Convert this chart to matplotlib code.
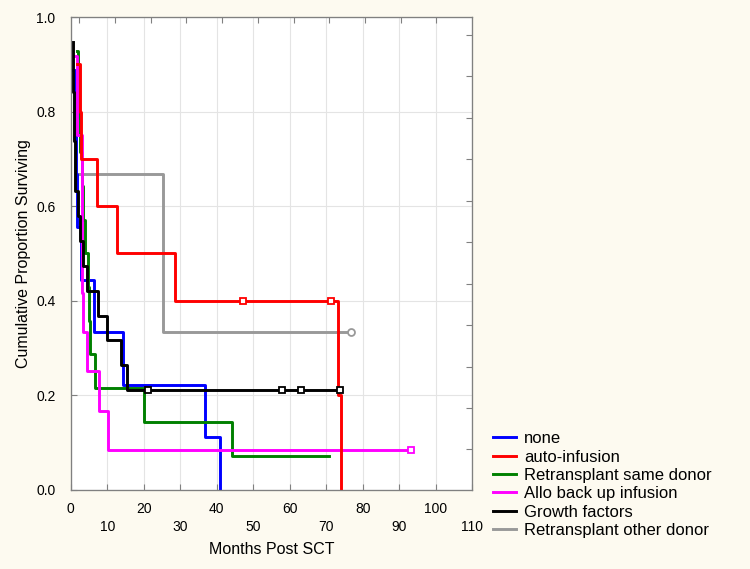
import matplotlib.pyplot as plt
import numpy as np

plt.rcParams['font.family'] = ['Liberation Sans', 'DejaVu Sans']

# Kaplan-Meier steps (months, proportion surviving)
none_t = [0.5, 1.2, 1.4, 1.6, 2.9, 6.5, 14.2, 36.8, 40.9]
none_s = [0.889, 0.778, 0.667, 0.556, 0.444, 0.333, 0.222, 0.111, 0.0]
none_end = 40.9

auto_t = [1.6, 2.5, 2.8, 7.1, 12.8, 28.6, 73.2, 74.0]
auto_s = [0.9, 0.8, 0.7, 0.6, 0.5, 0.4, 0.2, 0.0]
auto_end = 74.0
auto_cens_t = [47.1, 71.2]
auto_cens_s = [0.4, 0.4]

same_t = [1.6, 2.0, 2.3, 2.6, 3.0, 3.4, 3.9, 4.8, 5.0, 5.3, 6.6, 20.1, 44.1]
same_s = [0.929, 0.857, 0.786, 0.714, 0.643, 0.571, 0.5, 0.429, 0.357, 0.286, 0.214, 0.143, 0.071]
same_end = 70.9

allo_t = [1.4, 1.7, 1.8, 3.0, 3.1, 3.5, 4.4, 7.8, 10.2]
allo_s = [0.917, 0.833, 0.75, 0.5, 0.417, 0.333, 0.25, 0.167, 0.083]
allo_end = 93.2
allo_cens_t = [93.2]
allo_cens_s = [0.083]

growth_t = [0.5, 0.6, 0.7, 0.8, 0.9, 1.1, 1.2, 2.1, 2.5, 3.4, 4.5, 7.4, 10.0, 13.8, 15.3]
growth_s = [0.947, 0.895, 0.842, 0.789, 0.737, 0.684, 0.632, 0.579, 0.526, 0.474, 0.421,
            0.368, 0.316, 0.263, 0.211]
growth_end = 73.9
growth_cens_t = [21.1, 58.0, 63.1, 73.9]
growth_cens_s = [0.211, 0.211, 0.211, 0.211]

other_t = [2.1, 25.2]
other_s = [0.667, 0.333]
other_end = 76.7
other_cens_t = [76.7]
other_cens_s = [0.333]

x_ticks = list(range(0, 111, 10))
y_ticks = [0.0, 0.2, 0.4, 0.6, 0.8, 1.0]


def step_line(ax, t, s, end, color, label, z):
    ax.step(t + [end], s + [s[-1]], where='post', color=color, lw=2.1,
            label=label, zorder=z)


def main():
    fig = plt.figure(figsize=(7.5, 5.69), dpi=100)
    fig.patch.set_facecolor('#fdfaf0')
    ax = fig.add_axes([0.0943, 0.1397, 0.5353, 0.8303])
    ax.set_facecolor('white')

    step_line(ax, none_t, none_s, none_end, '#0000ff', 'none', 3)
    step_line(ax, auto_t, auto_s, auto_end, '#ff0000', 'auto-infusion', 6)
    step_line(ax, same_t, same_s, same_end, '#008000', 'Retransplant same donor', 3)
    step_line(ax, allo_t, allo_s, allo_end, '#ff00ff', 'Allo back up infusion', 4)
    step_line(ax, growth_t, growth_s, growth_end, 'black', 'Growth factors', 5)
    step_line(ax, other_t, other_s, other_end, '#999999', 'Retransplant other donor', 2)

    # Censored observations
    ms = dict(ms=5, mfc='white', mew=1.3, ls='none', zorder=8)
    ax.plot(auto_cens_t, auto_cens_s, 's', mec='#ff0000', **ms)
    ax.plot(allo_cens_t, allo_cens_s, 's', mec='#ff00ff', **ms)
    ax.plot(growth_cens_t, growth_cens_s, 's', mec='black', **ms)
    ax.plot(other_cens_t, other_cens_s, 'o', mec='#999999', **ms)

    ax.set_xlim(0, 110)
    ax.set_ylim(0, 1.0)
    ax.set_xticks(x_ticks)
    ax.set_xticklabels([str(v) if i % 2 == 0 else '\n' + str(v)
                        for i, v in enumerate(x_ticks)], linespacing=1.35)
    ax.set_yticks(y_ticks)
    ax.set_yticklabels(['%.1f' % v for v in y_ticks])
    ax.tick_params(axis='x', direction='in', length=4, pad=9, labelsize=10, color='#808080')
    ax.tick_params(axis='y', direction='in', length=4, pad=11, labelsize=10, color='#808080')
    ax.grid(True, color='#e4e4e4', lw=0.8)
    ax.set_axisbelow(True)
    for sp in ax.spines.values():
        sp.set_color('#808080')

    ax.set_xlabel('Months Post SCT', fontsize=11.5, labelpad=6)
    ax.set_ylabel('Cumulative Proportion Surviving', fontsize=11.5, labelpad=4)

    # small tick marks on the top and right frame
    ax_top = ax.twiny()
    ax_top.set_xlim(-0.24, 11.0)
    ax_top.set_xticks(np.arange(0, 11))
    ax_top.tick_params(axis='x', direction='in', length=4, labeltop=False, color='#808080')
    ax_right = ax.twinx()
    ax_right.set_ylim(-0.966, 10.43)
    ax_right.set_yticks(np.arange(0, 11))
    ax_right.tick_params(axis='y', direction='in', length=4, labelright=False, color='#808080')
    for a in (ax_top, ax_right):
        for sp in a.spines.values():
            sp.set_color('#808080')

    handles, labels = ax.get_legend_handles_labels()
    fig.legend(handles, labels, loc='upper left', bbox_to_anchor=(0.657, 0.242),
               bbox_transform=fig.transFigure, frameon=False, fontsize=12,
               handlelength=1.4, handletextpad=0.5, labelspacing=0.2,
               borderpad=0, borderaxespad=0)

    fig.savefig('out.png', dpi=100, facecolor=fig.get_facecolor())


if __name__ == '__main__':
    main()
